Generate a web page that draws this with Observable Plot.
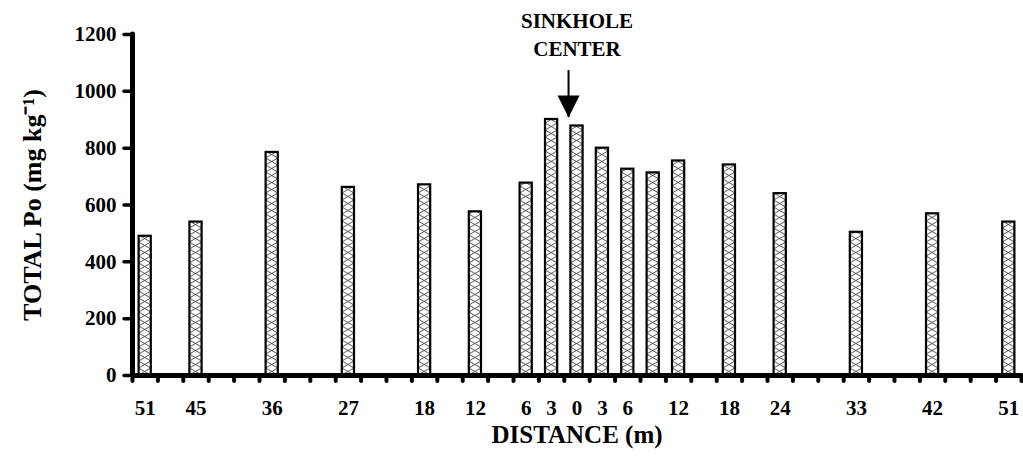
<!DOCTYPE html>
<html><head><meta charset="utf-8">
<script src="https://cdn.jsdelivr.net/npm/d3@7"></script>
<script src="https://cdn.jsdelivr.net/npm/@observablehq/plot@0.6"></script>
<style>body{margin:0;background:#fff;}</style>
</head><body><div id="chart"></div>
<script>
// Signed distance from the sinkhole center (m): negative = one side, positive = other side
const distances = [-51, -45, -36, -27, -18, -12, -6, -3, 0, 3, 6, 9, 12, 18, 24, 33, 42, 51];
const totalPo   = [490, 540, 785, 662, 671, 576, 677, 901, 878, 800, 726, 713, 755, 741, 640, 504, 569, 540];
const distanceTicks = [-51, -45, -36, -27, -18, -12, -6, -3, 0, 3, 6, 12, 18, 24, 33, 42, 51];
const slotEdges = [-52.5, -49.5, -46.5, -43.5, -40.5, -37.5, -34.5, -31.5, -28.5, -25.5, -22.5, -19.5,
  -16.5, -13.5, -10.5, -7.5, -4.5, -1.5, 1.5, 4.5, 7.5, 10.5, 13.5, 16.5, 19.5, 22.5, 25.5, 28.5,
  31.5, 34.5, 37.5, 40.5, 43.5, 46.5, 49.5, 52.5];
const yTicks = [0, 200, 400, 600, 800, 1000, 1200];
const annotationText = ["SINKHOLE\nCENTER"];
const arrowX = [-1];
const arrowTop = 1073, arrowTip = 908, annotationY = 1206;
const xLabel = ["DISTANCE (m)"];
const yLabel = ["TOTAL Po (mg kg\u207B\u00B9)"];

const bars = distances.map((d, i) => ({distance: d, po: totalPo[i]}));
const halfW = 0.72;
const font = "'Liberation Serif', 'Times New Roman', serif";

const downTriangle = {
  draw(ctx) { ctx.moveTo(0, 0); ctx.lineTo(-11, -22); ctx.lineTo(11, -22); ctx.closePath(); }
};

const chart = Plot.plot({
  width: 1023,
  height: 472,
  marginLeft: 132,
  marginRight: 2,
  marginTop: 34,
  marginBottom: 97,
  style: {fontFamily: font, fontWeight: "bold", fontSize: "21px", color: "black", background: "white"},
  x: {domain: [-52.5, 52.5], axis: null},
  y: {domain: [0, 1200], axis: null},
  marks: [
    Plot.rect(bars, {
      x1: d => d.distance - halfW, x2: d => d.distance + halfW,
      y1: 0, y2: "po",
      fill: "url(#xhatch)", stroke: "black", strokeWidth: 2.2, className: "bars"
    }),
    Plot.axisY({ticks: yTicks, tickSize: 8, tickPadding: 8, strokeWidth: 3.5, strokeLinecap: "round",
      tickFormat: d => String(d), fontSize: 21, fontWeight: "bold", fontFamily: font, letterSpacing: 2,
      fill: "black", label: null}),
    Plot.axisX({ticks: slotEdges, tickSize: 6, strokeWidth: 4, strokeLinecap: "round",
      tickFormat: () => "", label: null}),
    Plot.axisX({ticks: distanceTicks, tickSize: 0, tickPadding: 25, tickFormat: d => String(Math.abs(d)),
      fontSize: 21, fontWeight: "bold", fontFamily: font, letterSpacing: 1, fill: "black", label: null}),
    Plot.ruleY([0], {strokeWidth: 5}),
    Plot.ruleX([-52.5], {strokeWidth: 5, strokeLinecap: "round"}),
    Plot.ruleX(arrowX, {y1: arrowTop, y2: arrowTip, strokeWidth: 2}),
    Plot.dot(arrowX, {x: d => d, y: arrowTip, symbol: downTriangle, fill: "black", stroke: "none"}),
    Plot.text(annotationText, {x: 0, y: annotationY, fontSize: 21, fontWeight: "bold", lineHeight: 1.33,
      letterSpacing: 1.5, fontFamily: font, fill: "black"}),
    Plot.text(xLabel, {frameAnchor: "bottom", lineAnchor: "middle", dy: 59, fontSize: 25, fontWeight: "bold",
      letterSpacing: 0.5, fontFamily: font, fill: "black"}),
    Plot.text(yLabel, {frameAnchor: "left", textAnchor: "middle", lineAnchor: "middle", dx: -100, rotate: -90,
      fontSize: 26, fontWeight: "bold", letterSpacing: 0.5, fontFamily: font, fill: "black"})
  ]
});

// Cross-hatch fill: one pattern per bar so the X's line up with each bar's edges
const defs = d3.select(chart).insert("defs", ":first-child");
d3.select(chart).selectAll("g.bars rect").each(function(_, i) {
  const r = d3.select(this);
  const x = +r.attr("x"), w = +r.attr("width"), y = +r.attr("y"), h = +r.attr("height");
  const id = "xhatch" + i;
  const pat = defs.append("pattern").attr("id", id).attr("patternUnits", "userSpaceOnUse")
    .attr("x", x).attr("y", y + h).attr("width", w).attr("height", 7);
  pat.append("rect").attr("width", w).attr("height", 7).attr("fill", "white");
  pat.append("path").attr("d", `M0,0L${w},7M${w},0L0,7`).attr("stroke", "#444")
    .attr("stroke-width", 0.9).attr("fill", "none");
  r.attr("fill", `url(#${id})`);
});

document.getElementById("chart").appendChild(chart);
</script>
</body></html>
